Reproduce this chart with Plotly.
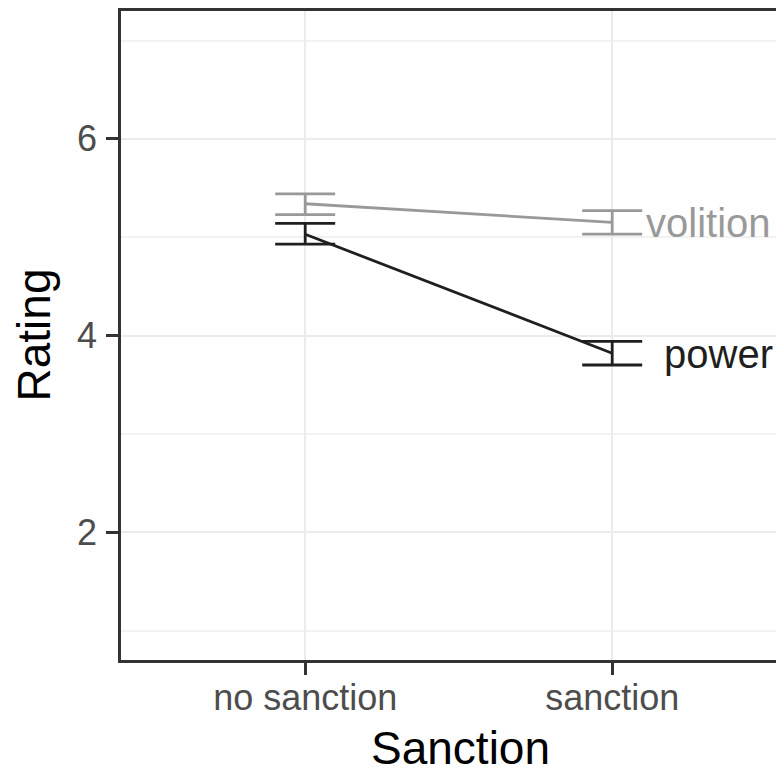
import plotly.graph_objects as go

categories = ["no sanction", "sanction"]
volition_mean = [5.34, 5.15]
volition_upper = [5.44, 5.27]
volition_lower = [5.23, 5.03]
power_mean = [5.03, 3.82]
power_upper = [5.14, 3.94]
power_lower = [4.93, 3.70]
y_ticks = [2, 4, 6]

FONT = "Liberation Sans, Arial, sans-serif"
GREY = "#999999"
DARK = "#1f1f1f"

# page offset of the figure inside the browser body
OFF = 8
W, H = 784 - OFF, 775 - OFF
L, T, B = 121 - OFF, 8 - OFF, 115
PW = W - L
PH = H - T - B

fig = go.Figure()

def add_series(mean, upper, lower, color, name):
    fig.add_trace(go.Scatter(
        x=categories, y=mean, mode="lines", name=name,
        line=dict(color=color, width=2.8),
        error_y=dict(type="data", symmetric=False,
                     array=[u - m for u, m in zip(upper, mean)],
                     arrayminus=[m - l for m, l in zip(mean, lower)],
                     color=color, thickness=2.8, width=30),
        showlegend=False, hoverinfo="skip"))

add_series(volition_mean, volition_upper, volition_lower, GREY, "volition")
add_series(power_mean, power_upper, power_lower, DARK, "power")

fig.add_annotation(x=categories[1], y=volition_mean[1], text="volition",
                   xref="x", yref="y", showarrow=False, xanchor="left",
                   xshift=32, yshift=-1, font=dict(family=FONT, size=40, color=GREY))
fig.add_annotation(x=categories[1], y=power_mean[1], text="power",
                   xref="x", yref="y", showarrow=False, xanchor="left",
                   xshift=50, yshift=-1, font=dict(family=FONT, size=40, color=DARK))

# axis titles
fig.add_annotation(x=(460 - 121) / PW, y=(660 - 748) / PH, xref="paper", yref="paper",
                   text="Sanction", showarrow=False, xanchor="center", yanchor="middle",
                   font=dict(family=FONT, size=46, color="black"))
fig.add_annotation(x=(33 - 121) / PW, y=0.5, xref="paper", yref="paper",
                   text="Rating", showarrow=False, textangle=-90,
                   xanchor="center", yanchor="middle",
                   font=dict(family=FONT, size=46, color="black"))

fig.update_layout(
    width=W, height=H,
    margin=dict(l=L, r=0, t=T, b=B, pad=0),
    paper_bgcolor="white", plot_bgcolor="white",
    font=dict(family=FONT),
    xaxis=dict(
        type="category", range=[-0.6, -0.6 + PW / 307],
        showgrid=True, gridcolor="#EBEBEB", gridwidth=2,
        showline=True, linecolor="#333333", linewidth=2.5, mirror=True,
        ticks="outside", ticklen=12, tickwidth=3, tickcolor="#333333",
        tickfont=dict(family=FONT, size=36, color="#4D4D4D"),
        ticklabelstandoff=-8,
        zeroline=False, fixedrange=True,
    ),
    yaxis=dict(
        range=[0.7, 7.3], tickvals=y_ticks, ticktext=[str(v) for v in y_ticks],
        showgrid=True, gridcolor="#EBEBEB", gridwidth=2,
        minor=dict(tickvals=[1, 3, 5, 7], showgrid=True, gridcolor="#F2F2F2", gridwidth=1.5, ticks=""),
        showline=True, linecolor="#333333", linewidth=2.5, mirror=False,
        ticks="outside", ticklen=12, tickwidth=3, tickcolor="#333333",
        tickfont=dict(family=FONT, size=36, color="#4D4D4D"),
        ticklabelstandoff=2,
        zeroline=False, fixedrange=True,
    ),
)

fig.write_html("out.html")
